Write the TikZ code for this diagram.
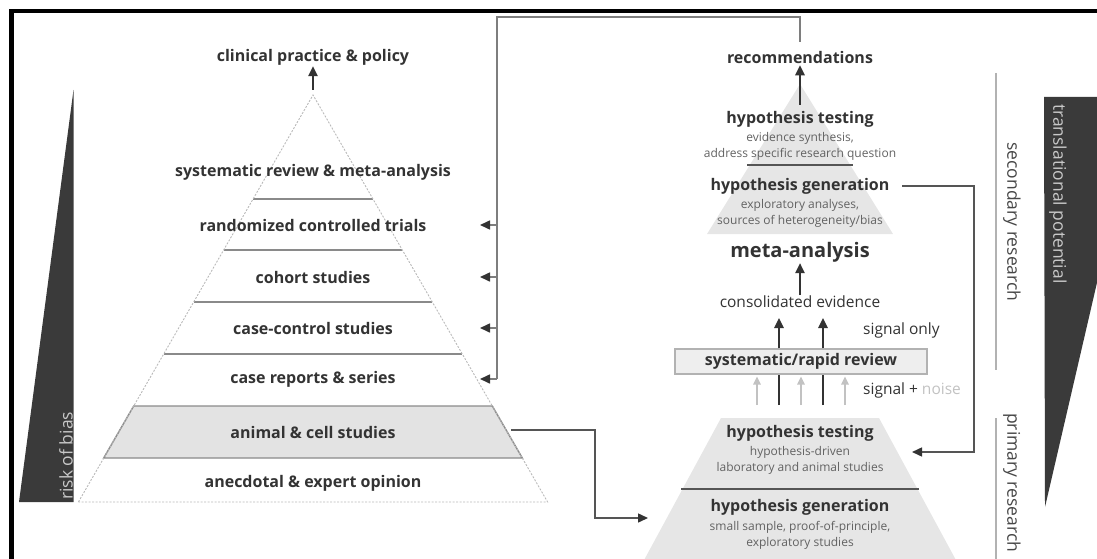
\documentclass[tikz,border=0pt]{standalone}
\usepackage{fontspec}
\setmainfont{Open Sans}
\usetikzlibrary{arrows.meta}

\definecolor{ink}{HTML}{333333}
\definecolor{wedgegray}{HTML}{3A3A3A}
\definecolor{bandgray}{HTML}{E3E3E3}
\definecolor{pyrgray}{HTML}{E6E6E6}
\definecolor{lvlgray}{HTML}{8A8A8A}
\definecolor{wiregray}{HTML}{7E7E7E}
\definecolor{darkwire}{HTML}{555555}
\definecolor{softgray}{HTML}{626262}
\definecolor{noisegray}{HTML}{C2C2C2}
\definecolor{wedgetext}{HTML}{C8C8C8}

\tikzset{
  lbl/.style={text=ink, font=\fontsize{16}{18}\selectfont\bfseries, inner sep=1pt},
  bigl/.style={text=ink, font=\fontsize{20}{22}\selectfont\bfseries, inner sep=1pt},
  note/.style={text=softgray, font=\fontsize{12}{13}\selectfont, inner sep=1pt},
  plain/.style={text=ink, font=\fontsize{15.5}{17}\selectfont, inner sep=1pt},
  side/.style={text=ink!90, font=\fontsize{17.5}{19}\selectfont, inner sep=0pt},
  level/.style={draw=lvlgray, line width=1.4pt},
  outline/.style={draw=gray!55, line width=0.9pt, dash pattern=on 2pt off 1.5pt},
  tip/.style={-{Triangle[length=10pt,width=9pt,color=ink]}},
  wire/.style={draw=wiregray, line width=1.6pt},
  dwire/.style={draw=darkwire, line width=1.5pt},
  uparr/.style={draw=ink, line width=1.4pt, -{Triangle[length=10pt,width=9.5pt,color=ink]}},
  noisearr/.style={draw=noisegray, line width=1.4pt, -{Triangle[length=8pt,width=7.5pt,color=noisegray]}},
  sideline/.style={draw=gray!60, line width=1.6pt},
}

\begin{document}
\begin{tikzpicture}[x=1pt,y=-1pt]
\useasboundingbox (0,0) rectangle (1097,559);
\clip (0,0) rectangle (1097,559);

% frame
\fill[black] (9,9) rectangle (1097,13.5);
\fill[black] (9,9) rectangle (14,559);

% ---------- risk of bias wedge ----------
\fill[wedgegray] (19,502) -- (73.5,502) -- (73.5,90) -- cycle;
\node[side, text=wedgetext, rotate=90, anchor=west] (rob) at (66,500) {risk of bias};

% ---------- evidence pyramid ----------
\coordinate (A) at (313,95);
\coordinate (BL) at (78.4,502);
\coordinate (BR) at (547.6,502);
\fill[bandgray] (133.7,406) -- (492.3,406) -- (522.3,458) -- (103.7,458) -- cycle;
\draw[level] (253,199) -- (373,199);
\draw[level] (223.6,250) -- (402.4,250);
\draw[level] (193.7,302) -- (432.3,302);
\draw[level] (163.7,354) -- (462.3,354);
\draw[level] (133.7,406) -- (492.3,406) -- (522.3,458) -- (103.7,458) -- cycle;
\draw[outline] (BL) -- (A) -- (BR) -- cycle;

\node[lbl] (cpp) at (313,57) {clinical practice \& policy};
\node[lbl] (srma) at (313,172) {systematic review \& meta-analysis};
\node[lbl] (rct) at (313,225) {randomized controlled trials};
\node[lbl] (coh) at (313,277) {cohort studies};
\node[lbl] (cc) at (313,328) {case-control studies};
\node[lbl] (crs) at (313,379) {case reports \& series};
\node[lbl] (acs) at (313,432) {animal \& cell studies};
\node[lbl] (aeo) at (313,483) {anecdotal \& expert opinion};

\coordinate (Atop) at (313,90);
\draw[uparr] (Atop) -- (cpp.south);

% ---------- feedback from recommendations ----------
\coordinate (recTop) at (800,42);
\coordinate (trunkTop) at (497,17);
\coordinate (trunkBot) at (497,379);
\coordinate (tipcol) at (480,0);
\draw[wire] (recTop) |- (trunkTop) -- (trunkBot);
\draw[wire, tip] (trunkTop |- rct) -- (tipcol |- rct);
\draw[wire, tip] (trunkTop |- coh) -- (tipcol |- coh);
\draw[wire, tip] (trunkTop |- cc) -- (tipcol |- cc);
\draw[wire, tip] (trunkBot) -- (tipcol |- trunkBot);

% ---------- secondary research pyramid ----------
\fill[pyrgray] (800,84) -- (893,234) -- (707,234) -- cycle;
\draw[draw=darkwire, line width=1.3pt] (747,165) -- (853,165);

\node[lbl] (rec) at (800,58) {recommendations};
\node[lbl] (ht1) at (800,119) {hypothesis testing};
\node[note] (es) at (800,138) {evidence synthesis,};
\node[note] (asr) at (800,154) {address specific research question};
\node[lbl] (hg1) at (800,186) {hypothesis generation};
\node[note] (ea) at (800,205) {exploratory analyses,};
\node[note] (shb) at (800,221) {sources of heterogeneity/bias};
\node[bigl] (ma) at (800,252) {meta-analysis};
\node[plain] (ce) at (800,302) {consolidated evidence};
\node[plain, anchor=west] (so) at (862,330) {signal only};

\coordinate (recFoot) at (800,105);
\draw[uparr] (recFoot) -- (rec.south);
\coordinate (ceHead) at (800,295);
\draw[uparr] (ceHead) -- (ma.south);

% ---------- review filter ----------
\node[draw=gray!60, fill=gray!13, line width=1.2pt, minimum width=252pt,
      minimum height=25pt, inner sep=0pt, text=ink,
      font=\fontsize{16}{18}\selectfont\bfseries] (srr) at (801,361.5) {systematic/rapid review};

\coordinate (ceFoot) at (800,318);
\coordinate (sigBase) at (800,405);
\coordinate (s1) at (757,0);
\coordinate (s2) at (779,0);
\coordinate (s3) at (801,0);
\coordinate (s4) at (823,0);
\coordinate (s5) at (845,0);
\draw[uparr] (s2 |- srr.north) -- (s2 |- ceFoot);
\draw[uparr] (s4 |- srr.north) -- (s4 |- ceFoot);
\draw[draw=ink, line width=1.4pt] (s2 |- sigBase) -- (s2 |- srr.south);
\draw[draw=ink, line width=1.4pt] (s4 |- sigBase) -- (s4 |- srr.south);
\draw[noisearr, shorten >=2pt] (s1 |- sigBase) -- (s1 |- srr.south);
\draw[noisearr, shorten >=2pt] (s3 |- sigBase) -- (s3 |- srr.south);
\draw[noisearr, shorten >=2pt] (s5 |- sigBase) -- (s5 |- srr.south);

\node[plain, anchor=west] (sn) at (862,390) {signal + \textcolor{noisegray}{noise}};

% ---------- primary research pyramid ----------
\fill[pyrgray] (721,418) -- (879,418) -- (957,562) -- (643,562) -- cycle;
\draw[draw=darkwire, line width=1.8pt] (681,489) -- (919,489);

\node[lbl] (ht2) at (800,433) {hypothesis testing};
\node[note] (hd) at (800,452) {hypothesis-driven};
\node[note] (las) at (800,468) {laboratory and animal studies};
\node[lbl] (hg2) at (800,507) {hypothesis generation};
\node[note] (ssp) at (800,527) {small sample, proof-of-principle,};
\node[note] (exs) at (800,543) {exploratory studies};

% ---------- connectors between the pyramids ----------
\coordinate (hgOut) at (902,186);
\coordinate (loopR) at (974,452);
\coordinate (htIn) at (912,452);
\draw[dwire, tip] (hgOut) -| (loopR) -- (htIn);

\coordinate (acOut) at (511,430);
\coordinate (dropL) at (595,518);
\coordinate (hgIn) at (648,518);
\draw[dwire, tip] (acOut) -| (dropL) -- (hgIn);

% ---------- research type brackets ----------
\draw[sideline] (996,73) -- (996,370);
\draw[sideline] (996,418) -- (996,565);
\node[side, rotate=-90] (sec) at (1012,222) {secondary research};
\node[side, rotate=-90, anchor=west] (pri) at (1012,413) {primary research};

% ---------- translational potential wedge ----------
\fill[wedgegray] (1044,97) -- (1140,97) -- (1045,507) -- cycle;
\node[side, text=wedgetext, rotate=-90, anchor=west] (tp) at (1058,104) {translational potential};

\end{tikzpicture}
\end{document}
